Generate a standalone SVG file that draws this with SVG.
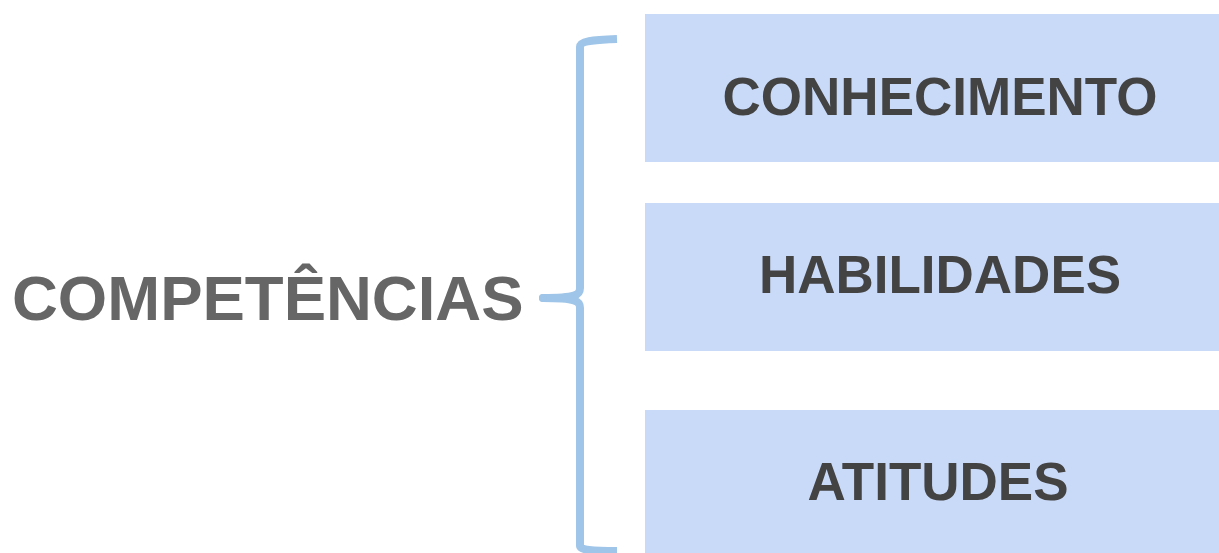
<svg xmlns="http://www.w3.org/2000/svg" width="1219" height="553" viewBox="0 0 1219 553">
<style>
.box{fill:#c9daf8}
.lbl{font-family:"Liberation Sans",Arial,sans-serif;font-weight:bold;font-size:53px;fill:#434343;text-anchor:middle}
.main{font-family:"Liberation Sans",Arial,sans-serif;font-weight:bold;font-size:63.5px;fill:#666666}
.brace{fill:none;stroke:#9fc5e8;stroke-width:8;stroke-linecap:butt;stroke-linejoin:round}
</style>
<rect width="1219" height="553" fill="#ffffff"/>
<g id="competencias">
<text class="main" x="12" y="320">COMPETÊNCIAS</text>
</g>
<g id="connectors">
<path class="brace" d="M617,39 C592,40 580,41 580,47 L580,288 C580,295 576,298 543,298 C576,298 580,301 580,308 L580,546 C580,550 592,551 617,551"/>
<circle cx="543" cy="298" r="4" fill="#9fc5e8"/>
</g>
<g id="conhecimento">
<rect class="box" x="645" y="14" width="574" height="148"/>
<text class="lbl" x="940" y="115">CONHECIMENTO</text>
</g>
<g id="habilidades">
<rect class="box" x="645" y="203" width="574" height="148"/>
<text class="lbl" x="940" y="293">HABILIDADES</text>
</g>
<g id="atitudes">
<rect class="box" x="645" y="410" width="574" height="143"/>
<text class="lbl" x="938" y="500">ATITUDES</text>
</g>
</svg>
